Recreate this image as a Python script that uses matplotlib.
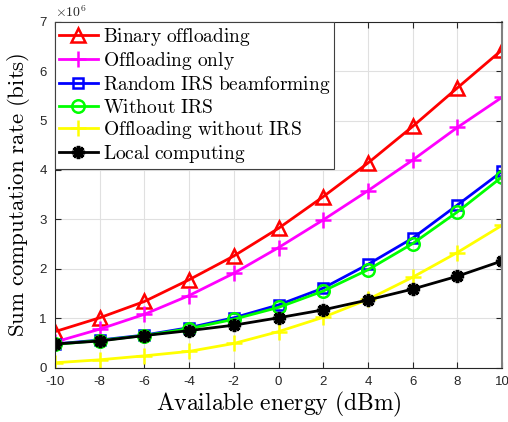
import matplotlib
matplotlib.use("Agg")
import matplotlib.pyplot as plt
import numpy as np

plt.rcParams['mathtext.fontset'] = 'cm'
plt.rcParams['font.family'] = ['Liberation Sans', 'DejaVu Sans']

energy = [-10, -8, -6, -4, -2, 0, 2, 4, 6, 8, 10]
binary_off = [0.73, 1.01, 1.34, 1.78, 2.26, 2.82, 3.46, 4.14, 4.88, 5.66, 6.43]
offload_only = [0.52, 0.78, 1.08, 1.46, 1.91, 2.43, 2.99, 3.58, 4.20, 4.86, 5.47]
random_irs = [0.48, 0.56, 0.66, 0.81, 1.01, 1.27, 1.61, 2.09, 2.62, 3.29, 3.97]
without_irs = [0.47, 0.55, 0.65, 0.79, 0.98, 1.22, 1.55, 1.98, 2.51, 3.15, 3.86]
offload_wo_irs = [0.10, 0.16, 0.24, 0.33, 0.49, 0.73, 1.02, 1.38, 1.83, 2.33, 2.88]
local_comp = [0.48, 0.54, 0.65, 0.75, 0.86, 1.01, 1.17, 1.37, 1.59, 1.85, 2.16]

labels = ["Binary offloading", "Offloading only", "Random IRS beamforming",
          "Without IRS", "Offloading without IRS", "Local computing"]
x_ticks = [-10, -8, -6, -4, -2, 0, 2, 4, 6, 8, 10]
y_ticks = [0, 1, 2, 3, 4, 5, 6, 7]

def tex(s):
    return r'$\mathrm{' + s.replace(' ', r'\ ') + '}$'

fig = plt.figure(figsize=(5.08, 4.22), dpi=100)
ax = fig.add_axes([55/508, 1 - 367.7/422, (502 - 55)/508, (367.7 - 21.7)/422])

scale = 1e6
series = [binary_off, offload_only, random_irs, without_irs, offload_wo_irs, local_comp]
styles = [
    dict(color='#ff0000', marker='^', mfc='none', ms=10, mew=1.8),
    dict(color='#ff00ff', marker='+', ms=11, mew=1.8),
    dict(color='#0000ff', marker='s', mfc='none', ms=7, mew=1.8),
    dict(color='#00ff00', marker='o', mfc='none', ms=9, mew=1.8),
    dict(color='#ffff00', marker='+', ms=11, mew=1.8),
    dict(color='#000000', marker=(8, 2, 0), ms=9.5, mew=2.5),
]
for vals, lab, st in zip(series, labels, styles):
    ax.plot(energy, np.array(vals) * scale, lw=2, label=tex(lab), **st)

ax.set_xlim(-10, 10)
ax.set_ylim(0, 7e6)
ax.set_xticks(x_ticks)
ax.set_xticklabels([str(t) for t in x_ticks])
ax.set_yticks([t * scale for t in y_ticks])
ax.set_yticklabels([str(t) for t in y_ticks])
ax.tick_params(direction='in', top=True, right=True, labelsize=9.5, colors='#262626',
               length=4)
ax.tick_params(axis='x', pad=6)
ax.tick_params(axis='y', pad=6)
ax.grid(True, color='#e0e0e0', lw=0.8)
ax.set_axisbelow(True)
for sp in ax.spines.values():
    sp.set_color('#262626')
    sp.set_linewidth(0.8)
ax.spines['right'].set_color('#808080')
ax.spines['right'].set_linewidth(1.5)

ax.text(0.0, 1.005, r'$\times 10^6$', transform=ax.transAxes, fontsize=10,
        ha='left', va='bottom', color='#262626', family='DejaVu Sans')

ax.set_xlabel(tex('Available energy (dBm)'), fontsize=17, labelpad=1)
ax.set_ylabel(tex('Sum computation rate (bits)'), fontsize=16.5, labelpad=5)

leg = ax.legend(loc='upper left', fontsize=14, handlelength=2.0, handletextpad=0.25,
                labelspacing=0.12, borderpad=0.2, borderaxespad=0.0, fancybox=False,
                framealpha=1, edgecolor='#404040')
leg.get_frame().set_linewidth(0.8)

fig.savefig('out.png', dpi=100)
